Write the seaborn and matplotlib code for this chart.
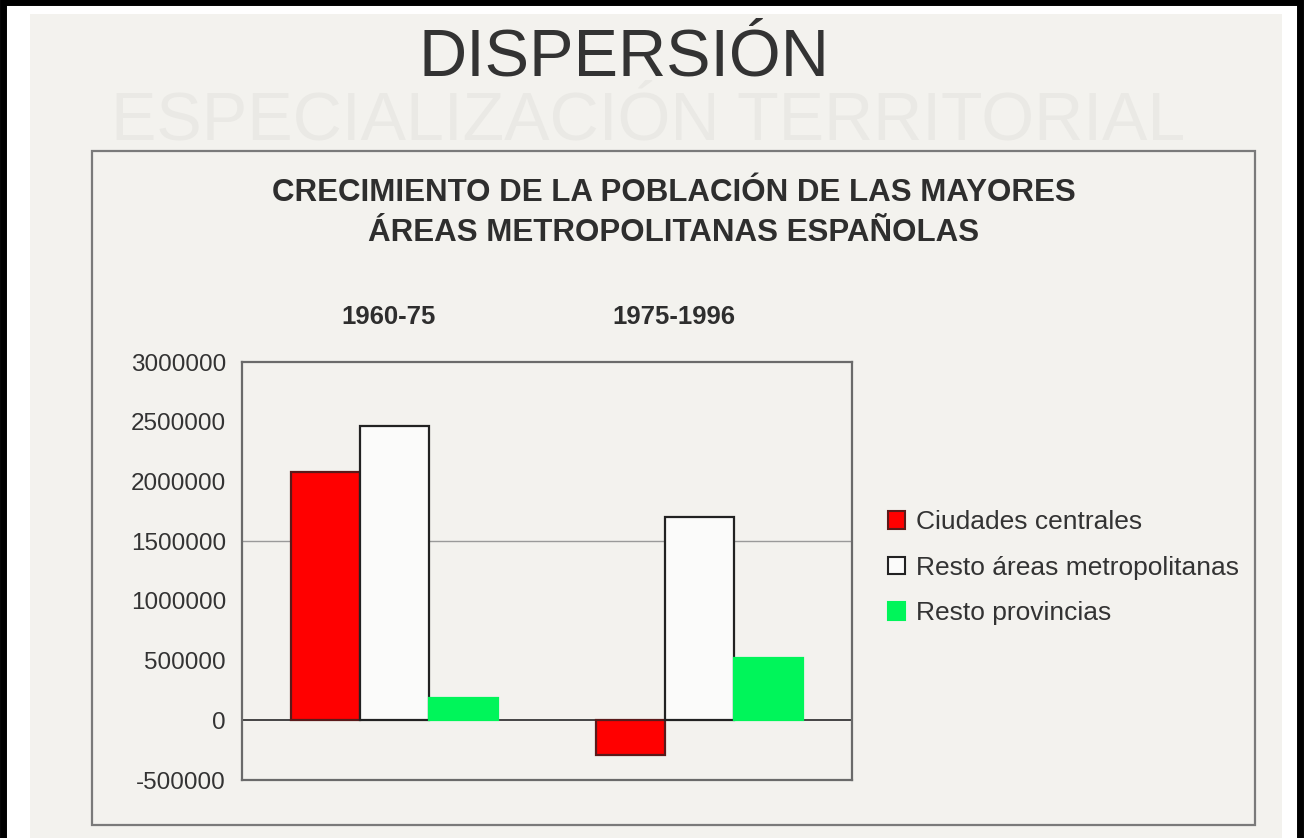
import matplotlib
matplotlib.use("Agg")
import matplotlib.pyplot as plt
from matplotlib.patches import Rectangle, Patch
from matplotlib.transforms import ScaledTranslation
import seaborn as sns
import pandas as pd

# Datos
periodos = ["1960-75", "1975-1996"]
series = ["Ciudades centrales", "Resto áreas metropolitanas", "Resto provincias"]
ciudades_centrales = [2080000, -290000]
resto_areas = [2460000, 1700000]
resto_provincias = [190000, 520000]
yticks = [-500000, 0, 500000, 1000000, 1500000, 2000000, 2500000, 3000000]

colores = ["#ff0000", "#fbfbfa", "#00f55a"]
bordes = ["#5a1a1a", "#222222", "#00f55a"]

df = pd.DataFrame({
    "periodo": periodos * 3,
    "serie": [s for s in series for _ in periodos],
    "valor": ciudades_centrales + resto_areas + resto_provincias,
})

sns.set_theme(style="white")
plt.rcParams["font.family"] = ["Liberation Sans", "DejaVu Sans"]

W, H = 1304, 838
fig = plt.figure(figsize=(W / 100, H / 100), dpi=100, facecolor="white")

def px(x0, y0, x1, y1):
    # caja en pixeles -> coordenadas de figura
    return (x0 / W, 1 - y1 / H, (x1 - x0) / W, (y1 - y0) / H)

papel = "#f3f2ee"
x, y, w, h = px(30, 14, 1282, 838)
fig.patches.append(Rectangle((x, y), w, h, transform=fig.transFigure,
                             facecolor=papel, edgecolor="none", zorder=-3))
# marco negro del escaneo
x, y, w, h = px(3, 2, 1300, 840)
fig.patches.append(Rectangle((x, y), w, h, transform=fig.transFigure,
                             facecolor="none", edgecolor="black", lw=5, zorder=1))
# marco del gráfico
x, y, w, h = px(92, 151, 1255, 825)
fig.patches.append(Rectangle((x, y), w, h, transform=fig.transFigure,
                             facecolor="none", edgecolor="#7a7a7a", lw=1.6, zorder=1))

# texto fantasma (transparencia de la hoja)
fig.text(0.497, 1 - 122 / H, "ESPECIALIZACIÓN TERRITORIAL", ha="center", va="center",
         fontsize=49, color="#eae9e5", zorder=-2)

fig.text(624 / W, 1 - 58 / H, "DISPERSIÓN", ha="center", va="center",
         fontsize=48, color="#333333")
fig.text(674 / W, 1 - 213 / H,
         "CRECIMIENTO DE LA POBLACIÓN DE LAS MAYORES\nÁREAS METROPOLITANAS ESPAÑOLAS",
         ha="center", va="center", fontsize=22.5, fontweight="bold",
         color="#2e2e2e", linespacing=1.45)

ax = fig.add_axes(px(242, 362, 852, 780))
ax.set_facecolor(papel)

sns.barplot(data=df, x="periodo", y="valor", hue="serie", order=periodos,
            hue_order=series, palette=colores, saturation=1, width=0.68,
            legend=False, ax=ax, zorder=3)

for i, cont in enumerate(ax.containers):
    for p in cont:
        p.set_edgecolor(bordes[i])
        p.set_linewidth(1.6)

ax.axhline(0, color="#444444", lw=1.4, zorder=2)
ax.axhline(1500000, color="#9a9a9a", lw=1.0, zorder=1)

ax.set_xlim(-0.5, 1.5)
ax.set_ylim(-500000, 3000000)
ax.set_yticks(yticks)
ax.set_yticklabels([str(v) for v in yticks])
ax.tick_params(axis="y", length=0, pad=11.5, labelsize=17.5, labelcolor="#333333")
ax.xaxis.tick_top()
ax.tick_params(axis="x", length=0, pad=24, labelsize=18.5, labelcolor="#2e2e2e")
desplaz = [-6, -26]  # las etiquetas del original no quedan centradas en cada grupo
for lab, d in zip(ax.get_xticklabels(), desplaz):
    lab.set_fontweight("bold")
    lab.set_transform(lab.get_transform() + ScaledTranslation(d / 100, 0, fig.dpi_scale_trans))
ax.set_xlabel("")
ax.set_ylabel("")
for s in ax.spines.values():
    s.set_visible(True)
    s.set_color("#6a6a6a")
    s.set_linewidth(1.6)

handles = [Patch(facecolor=c, edgecolor=b, lw=1.5) for c, b in zip(colores, bordes)]
leg = fig.legend(handles, series, loc="upper left",
                 bbox_to_anchor=(888 / W, 1 - 510 / H), frameon=False,
                 fontsize=19, handlelength=0.65, handleheight=0.65,
                 handletextpad=0.4, labelspacing=0.82, borderpad=0,
                 borderaxespad=0)
for t in leg.get_texts():
    t.set_color("#333333")

fig.savefig("out.png", dpi=100, facecolor="white")
